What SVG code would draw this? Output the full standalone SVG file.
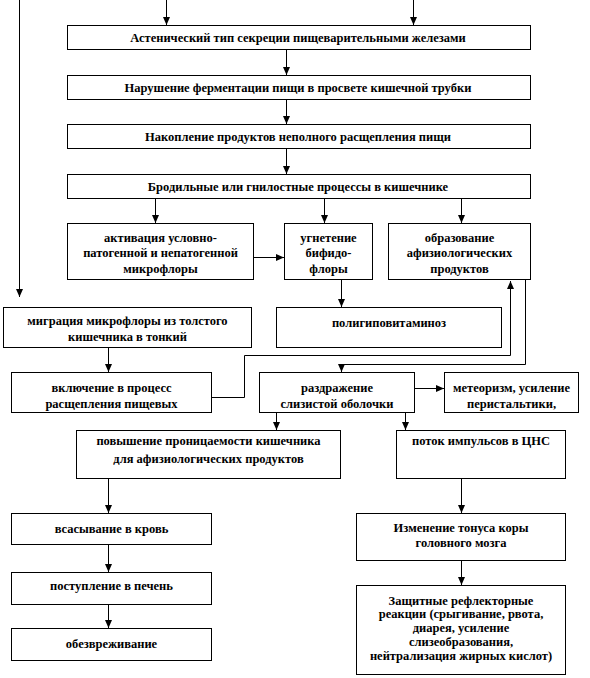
<svg xmlns="http://www.w3.org/2000/svg" width="590" height="678" viewBox="0 0 590 678">
<defs>
<marker id="ah" markerUnits="userSpaceOnUse" markerWidth="8" markerHeight="8" refX="8" refY="3.5" orient="auto">
<path d="M0,0 L8,3.5 L0,7 z" fill="#000"/>
</marker>
<style>
rect{fill:#fff;stroke:#000;stroke-width:1}
text{font-family:'Liberation Serif','Times New Roman',serif;font-weight:bold;font-size:12.5px;text-anchor:middle;fill:#000}
.c{fill:none;stroke:#000;stroke-width:1;marker-end:url(#ah)}
</style>
</defs>
<rect x="0" y="0" width="590" height="678" style="fill:#fff;stroke:none"/>
<g id="connectors">
<path class="c" d="M166.5,0 V25"/>
<path class="c" d="M413.5,0 V25"/>
<path class="c" d="M19.5,0 V297"/>
<path class="c" d="M286.5,49 V75"/>
<path class="c" d="M286.5,99 V124"/>
<path class="c" d="M286.5,148 V174"/>
<path class="c" d="M155.5,198 V223"/>
<path class="c" d="M324.5,198 V223"/>
<path class="c" d="M461.5,198 V223"/>
<path class="c" d="M251,257.5 H284"/>
<path class="c" d="M341.5,279 V307"/>
<path class="c" d="M108.5,347 V372"/>
<path class="c" d="M211,397.5 H244.5 V355.5 H510.5 V281"/>
<path class="c" d="M525.5,279 V364.5 H341.5 V372"/>
<path class="c" d="M414,388.5 H444"/>
<path class="c" d="M276.5,412 V430"/>
<path class="c" d="M405.5,412 V430"/>
<path class="c" d="M108.5,478 V513"/>
<path class="c" d="M108.5,544 V572"/>
<path class="c" d="M108.5,604 V628"/>
<path class="c" d="M461.5,478 V513"/>
<path class="c" d="M461.5,560 V585"/>
</g>
<g id="n1"><rect x="67.5" y="25.5" width="463" height="24"/><text x="298" y="42">Астенический тип  секреции пищеварительными  железами</text></g>
<g id="n2"><rect x="67.5" y="75.5" width="463" height="24"/><text x="298" y="92">Нарушение ферментации пищи в просвете кишечной трубки</text></g>
<g id="n3"><rect x="67.5" y="124.5" width="463" height="24"/><text x="298" y="141">Накопление продуктов неполного расщепления пищи</text></g>
<g id="n4"><rect x="67.5" y="174.5" width="463" height="24"/><text x="298" y="191">Бродильные или гнилостные процессы в кишечнике</text></g>
<g id="n5"><rect x="67.5" y="223.5" width="186" height="56"/><text x="160.5" y="242">активация условно-</text><text x="160.5" y="257">патогенной и непатогенной</text><text x="160.5" y="273">микрофлоры</text></g>
<g id="n6"><rect x="284.5" y="223.5" width="88" height="56"/><text x="328.5" y="242">угнетение</text><text x="328.5" y="257">бифидо-</text><text x="328.5" y="273">флоры</text></g>
<g id="n7"><rect x="388.5" y="223.5" width="142" height="56"/><text x="459.5" y="242">образование</text><text x="459.5" y="257">афизиологических</text><text x="459.5" y="273">продуктов</text></g>
<g id="n8"><rect x="3.5" y="307.5" width="248" height="40"/><text x="127.5" y="325">миграция микрофлоры из толстого</text><text x="127.5" y="341">кишечника в тонкий</text></g>
<g id="n9"><rect x="276.5" y="307.5" width="225" height="40"/><text x="389" y="327">полигиповитаминоз</text></g>
<g id="n10"><rect x="11.5" y="372.5" width="200" height="40"/><text x="111.5" y="392">включение в процесс</text><text x="111.5" y="408">расщепления пищевых</text></g>
<g id="n11"><rect x="259.5" y="372.5" width="155" height="40"/><text x="337" y="392">раздражение</text><text x="337" y="408">слизистой оболочки</text></g>
<g id="n12"><rect x="444.5" y="372.5" width="134" height="40"/><text x="511.5" y="392">метеоризм, усиление</text><text x="511.5" y="408">перистальтики,</text></g>
<g id="n13"><rect x="76.5" y="430.5" width="264" height="48"/><text x="208.5" y="445">повышение проницаемости кишечника</text><text x="208.5" y="463">для  афизиологических  продуктов</text></g>
<g id="n14"><rect x="396.5" y="430.5" width="169" height="48"/><text x="481" y="445">поток импульсов в ЦНС</text></g>
<g id="n15"><rect x="11.5" y="513.5" width="200" height="31"/><text x="111.5" y="533">всасывание в кровь</text></g>
<g id="n16"><rect x="11.5" y="572.5" width="200" height="32"/><text x="111.5" y="590">поступление в печень</text></g>
<g id="n17"><rect x="11.5" y="628.5" width="200" height="32"/><text x="111.5" y="648">обезвреживание</text></g>
<g id="n18"><rect x="356.5" y="513.5" width="209" height="47"/><text x="461" y="532">Изменение тонуса коры</text><text x="461" y="547">головного мозга</text></g>
<g id="n19"><rect x="356.5" y="585.5" width="209" height="89"/><text x="461" y="605">Защитные рефлекторные</text><text x="461" y="618">реакции (срыгивание, рвота,</text><text x="461" y="632">диарея, усиление</text><text x="461" y="646">слизеобразования,</text><text x="461" y="660">нейтрализация жирных кислот)</text></g>
</svg>
